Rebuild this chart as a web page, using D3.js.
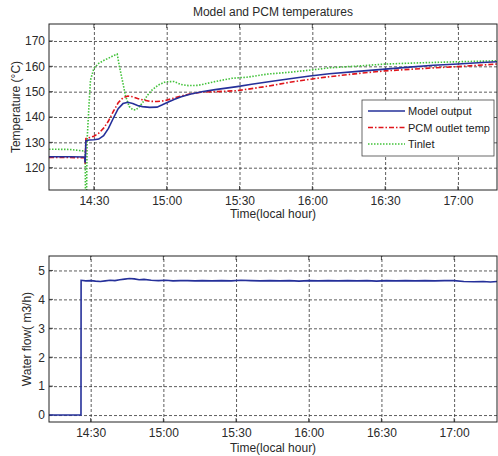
<!DOCTYPE html>
<html>
<head>
<meta charset="utf-8">
<script src="https://cdn.jsdelivr.net/npm/d3@7"></script>
<style>
  body { margin: 0; background: #fff; }
  svg { display: block; font-family: "Liberation Sans", Arial, sans-serif; }
  .grid line { stroke: #333; stroke-dasharray: 3,2; stroke-width: 0.8; }
  .grid path { display: none; }
  .tick-labels text { fill: #2a2a2a; font-size: 12px; }
  .tick-labels path, .tick-labels line { display: none; }
  .axis-labels { fill: #2a2a2a; font-size: 12px; }
</style>
</head>
<body>
<svg id="chart" width="498" height="456"></svg>
<script>
// time in minutes after 14:00
var xTicks = [30, 60, 90, 120, 150, 180];
var tempTicks = [120, 130, 140, 150, 160, 170];
var flowTicks = [0, 1, 2, 3, 4, 5];

var modelOutput = [
  [11.5, 124.3], [20, 124.3], [26.2, 124.2], [26.4, 122.0], [26.7, 130.6], [28, 130.9],
  [30, 131.0], [32, 131.3], [34, 132.6], [36, 135.5], [38, 139.5], [40, 143.3],
  [42, 145.3], [44, 145.8], [46, 145.3], [48, 144.5], [50, 144.1], [53, 143.8],
  [56, 143.9], [58, 144.7], [60, 145.6], [63, 146.9], [66, 148.0], [70, 149.1],
  [75, 150.1], [80, 150.8], [89, 152.0], [95, 152.9], [102, 153.9], [110, 155.0],
  [119, 156.2], [127, 157.1], [140, 158.1], [150, 158.9], [160, 159.7], [170, 160.4],
  [180, 160.9], [190, 161.5], [196.1, 161.8]
];

var pcmOutlet = [
  [11.5, 124.0], [20, 124.0], [26.2, 123.9], [26.4, 121.5], [26.7, 131.5], [28, 131.8],
  [30, 132.4], [32, 133.6], [34, 135.6], [36, 138.4], [38, 142.2], [40, 145.6],
  [42, 147.6], [44, 148.3], [46, 148.0], [48, 147.3], [50, 146.8], [53, 146.2],
  [56, 146.1], [59, 146.4], [62, 147.2], [66, 148.3], [70, 149.2], [75, 149.9],
  [80, 150.0], [89, 150.4], [95, 151.2], [102, 152.2], [110, 153.6], [119, 154.9],
  [127, 155.9], [140, 157.3], [150, 158.2], [160, 158.8], [170, 159.4], [180, 159.9],
  [190, 160.5], [196.1, 160.9]
];

var tinlet = [
  [11.5, 127.3], [20, 127.2], [24, 126.8], [26.4, 126.5], [26.6, 100], [26.9, 100],
  [27.2, 130.9], [28, 145.0], [28.6, 154.6], [30, 159.2], [32, 161.2], [34, 162.3],
  [36, 163.2], [38, 164.2], [39.6, 164.8], [40.5, 160.0], [41.7, 154.6], [43, 148.5],
  [44.5, 144.2], [46, 142.9], [47.2, 142.8], [48.5, 143.8], [50.5, 146.2], [52, 148.5],
  [54, 150.7], [56.5, 152.6], [59.5, 153.9], [63, 154.0], [66, 152.8], [69, 152.4],
  [73, 152.5], [80, 154.0], [87, 155.3], [93, 155.7], [102, 157.0], [110, 157.6],
  [120, 158.6], [127, 159.4], [140, 160.2], [150, 160.9], [165, 161.4], [180, 161.8],
  [196.1, 162.2]
];

var waterFlow = [
  [12.8, 0], [26, 0], [26.05, 4.66], [28, 4.64], [30, 4.65], [32, 4.63], [34, 4.62],
  [36, 4.64], [38, 4.66], [40, 4.65], [42, 4.68], [44, 4.70], [46, 4.72], [48, 4.71],
  [50, 4.68], [52, 4.69], [55, 4.66], [58, 4.65], [61, 4.66], [64, 4.64], [67, 4.65],
  [70, 4.65], [73, 4.64], [76, 4.65], [80, 4.64], [84, 4.65], [88, 4.64], [92, 4.66],
  [96, 4.65], [100, 4.64], [104, 4.65], [108, 4.64], [112, 4.65], [116, 4.63], [120, 4.65],
  [124, 4.64], [128, 4.65], [132, 4.64], [136, 4.65], [140, 4.64], [144, 4.65], [148, 4.63],
  [152, 4.65], [156, 4.64], [160, 4.65], [164, 4.64], [168, 4.65], [172, 4.64], [176, 4.65],
  [180, 4.65], [184, 4.62], [188, 4.61], [192, 4.62], [195, 4.60], [197.7, 4.62]
];

var legendItems = [
  { name: "Model output", color: "#25309a", dash: null },
  { name: "PCM outlet temp", color: "#e0151b", dash: "5,2,1.5,2" },
  { name: "Tinlet", color: "#42c23a", dash: "1.5,1.5" }
];

function timeFmt(m) {
  var h = 14 + Math.floor(m / 60), mm = m % 60;
  return h + ":" + (mm < 10 ? "0" : "") + mm;
}

var svg = d3.select("#chart");

function makePanel(id, box, xDomain, yDomain, yTicks) {
  var w = box.right - box.left, h = box.bottom - box.top;
  var g = svg.append("g")
      .attr("transform", "translate(" + box.left + "," + box.top + ")");
  var x = d3.scaleLinear().domain(xDomain).range([0, w]);
  var y = d3.scaleLinear().domain(yDomain).range([h, 0]);

  g.append("rect").attr("width", w).attr("height", h).attr("fill", "#fff");

  g.append("clipPath").attr("id", id)
    .append("rect").attr("width", w).attr("height", h);

  // grid
  g.append("g").attr("class", "grid")
    .attr("transform", "translate(0," + h + ")")
    .call(d3.axisBottom(x).tickValues(xTicks).tickSize(-h).tickFormat(""));
  g.append("g").attr("class", "grid")
    .call(d3.axisLeft(y).tickValues(yTicks).tickSize(-w).tickFormat(""));

  // tick labels
  g.append("g").attr("class", "tick-labels")
    .attr("transform", "translate(0," + h + ")")
    .call(d3.axisBottom(x).tickValues(xTicks).tickSize(0).tickPadding(6).tickFormat(timeFmt));
  g.append("g").attr("class", "tick-labels")
    .call(d3.axisLeft(y).tickValues(yTicks).tickSize(0).tickPadding(4).tickFormat(d3.format("d")));

  // small inward ticks like matlab
  var tk = g.append("g").attr("stroke", "#222").attr("stroke-width", 0.8);
  xTicks.forEach(function(t) {
    tk.append("line").attr("x1", x(t)).attr("x2", x(t)).attr("y1", h).attr("y2", h - 4);
    tk.append("line").attr("x1", x(t)).attr("x2", x(t)).attr("y1", 0).attr("y2", 4);
  });
  yTicks.forEach(function(v) {
    tk.append("line").attr("x1", 0).attr("x2", 4).attr("y1", y(v)).attr("y2", y(v));
  });

  var plot = g.append("g").attr("clip-path", "url(#" + id + ")");

  // frame
  g.append("rect").attr("width", w).attr("height", h)
    .attr("fill", "none").attr("stroke", "#222").attr("stroke-width", 1);

  return { g: g, plot: plot, x: x, y: y, w: w, h: h };
}

// top panel
var tempPanel = makePanel("clipTop", { left: 49, right: 497, top: 24, bottom: 190 },
  [11.5, 196.1], [111.2, 176.7], tempTicks);

var lineTop = d3.line()
  .x(function(d) { return tempPanel.x(d[0]); })
  .y(function(d) { return tempPanel.y(d[1]); });

var topSeries = [tinlet, pcmOutlet, modelOutput];
var topStyles = [legendItems[2], legendItems[1], legendItems[0]];
topSeries.forEach(function(s, i) {
  tempPanel.plot.append("path")
    .datum(s)
    .attr("d", lineTop)
    .attr("fill", "none")
    .attr("stroke", topStyles[i].color)
    .attr("stroke-width", 1.6)
    .attr("stroke-dasharray", topStyles[i].dash);
});

svg.append("text")
  .attr("class", "axis-labels")
  .attr("x", 273).attr("y", 16)
  .style("text-anchor", "middle")
  .text("Model and PCM temperatures");

svg.append("text")
  .attr("class", "axis-labels")
  .attr("x", 273).attr("y", 218)
  .style("text-anchor", "middle")
  .text("Time(local hour)");

svg.append("text")
  .attr("class", "axis-labels")
  .attr("transform", "translate(20,107) rotate(-90)")
  .style("text-anchor", "middle")
  .text("Temperature (\u00B0C)");

// legend
var legend = tempPanel.g.append("g").attr("transform", "translate(" + (362 - 49) + "," + (100 - 24) + ")");
legend.append("rect")
  .attr("width", 132).attr("height", 56)
  .attr("fill", "#fff").attr("stroke", "#444").attr("stroke-width", 0.8);
legendItems.forEach(function(d, i) {
  var yy = 11 + i * 16.5;
  legend.append("line")
    .attr("x1", 6).attr("x2", 43).attr("y1", yy).attr("y2", yy)
    .attr("stroke", d.color).attr("stroke-width", 1.6)
    .attr("stroke-dasharray", d.dash);
  legend.append("text")
    .attr("x", 46).attr("y", yy + 4)
    .attr("fill", "#222")
    .style("font-size", "11px")
    .text(d.name);
});

// bottom panel
var flowPanel = makePanel("clipBot", { left: 49, right: 497, top: 256, bottom: 422 },
  [12.8, 197.7], [-0.24, 5.5], flowTicks);

flowPanel.plot.append("path")
  .datum(waterFlow)
  .attr("d", d3.line()
    .x(function(d) { return flowPanel.x(d[0]); })
    .y(function(d) { return flowPanel.y(d[1]); }))
  .attr("fill", "none")
  .attr("stroke", "#25309a")
  .attr("stroke-width", 1.6);

svg.append("text")
  .attr("class", "axis-labels")
  .attr("x", 273).attr("y", 452)
  .style("text-anchor", "middle")
  .text("Time(local hour)");

svg.append("text")
  .attr("class", "axis-labels")
  .attr("transform", "translate(31,339) rotate(-90)")
  .style("text-anchor", "middle")
  .text("Water flow( m3/h)");
</script>
</body>
</html>
